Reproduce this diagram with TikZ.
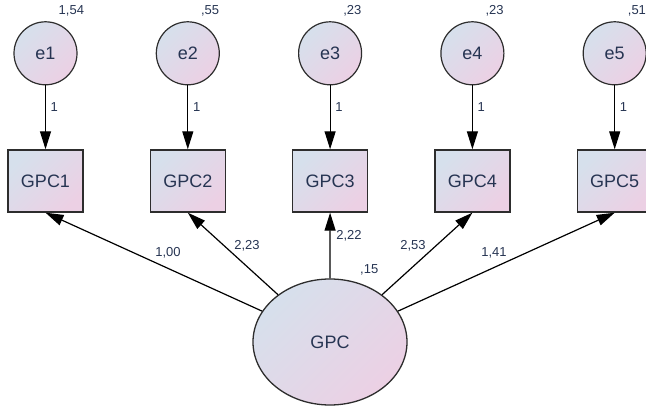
\documentclass[tikz,border=0pt]{standalone}
\usepackage{fontspec}
\setmainfont{Liberation Sans}
\usetikzlibrary{arrows.meta}
\definecolor{inkcol}{RGB}{38,52,82}
\definecolor{edgecol}{RGB}{45,45,45}
\definecolor{shadeA}{RGB}{214,224,236}
\definecolor{shadeB}{RGB}{236,208,228}
\tikzset{
  varfill/.style={top color=shadeA, bottom color=shadeB, shading angle=45},
  errnode/.style={circle, draw=edgecol, line width=1.2pt, varfill,
    minimum size=63pt, inner sep=0pt, text=inkcol, font=\fontsize{18}{20}\selectfont},
  obsnode/.style={rectangle, draw=edgecol, line width=1.4pt, varfill,
    minimum width=75pt, minimum height=62pt, inner sep=0pt, text=inkcol, font=\fontsize{18}{20}\selectfont},
  latnode/.style={ellipse, draw=edgecol, line width=1.3pt, varfill,
    minimum width=154pt, minimum height=126pt, inner sep=0pt, text=inkcol, font=\fontsize{18}{20}\selectfont},
  est/.style={text=inkcol, font=\fontsize{13}{15}\selectfont, inner sep=0pt},
  path/.style={line width=1.2pt, black, -{Triangle[length=18pt,width=11pt]}}
}
\usetikzlibrary{shapes.geometric}
\begin{document}
\begin{tikzpicture}[x=1pt, y=-1pt]
  \useasboundingbox (0,0) rectangle (646,411);

  % latent factor
  \node[latnode] (g) at (330,342) {GPC};
  \node[est, anchor=west] (gv) at (360,270) {,15};

  % indicators, error terms and their labels
  \foreach \i/\x/\v in {1/45.5/{1,54}, 2/187.8/{,55}, 3/330.1/{,23}, 4/472.4/{,23}, 5/614.7/{,51}} {
    \node[errnode] (e\i) at (\x,53.3) {e\i};
    \node[obsnode] (b\i) at (\x,181) {GPC\i};
    \node[est, anchor=west] (ev\i) at (\x+13,11) {\v};
    \draw[path] (e\i) -- (b\i);
    \node[est, anchor=west] (one\i) at (\x+5,107) {1};
    \draw[path] (g) -- (b\i.south);
  }

  % loadings
  \node[est] (l1) at (168,253) {1,00};
  \node[est] (l2) at (247,246) {2,23};
  \node[est] (l3) at (349,236) {2,22};
  \node[est] (l4) at (413,246) {2,53};
  \node[est] (l5) at (494,253) {1,41};
\end{tikzpicture}
\end{document}
